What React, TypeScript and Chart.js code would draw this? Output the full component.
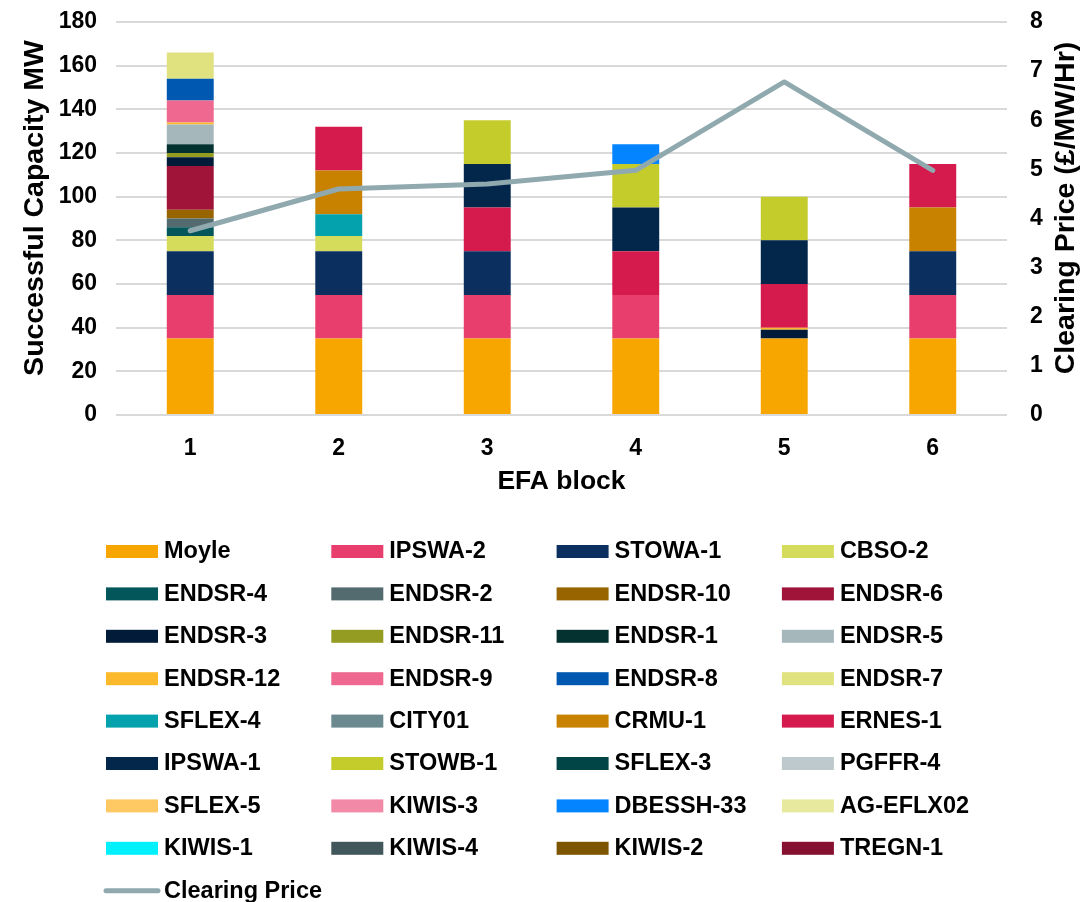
import React, { useEffect, useRef } from "react";
import { Chart, registerables } from "chart.js";

Chart.register(...registerables);

const FONT = '"Liberation Sans", Arial, sans-serif';

const categories = ["1", "2", "3", "4", "5", "6"];

// Successful capacity (MW) per unit, per EFA block
const moyle = [35, 35, 35, 35, 35, 35];
const ipswa2 = [20, 20, 20, 20, 0, 20];
const stowa1 = [20, 20, 20, 0, 0, 20];
const cbso2 = [7, 7, 0, 0, 0, 0];
const endsr4 = [4, 0, 0, 0, 0, 0];
const endsr2 = [4, 0, 0, 0, 0, 0];
const endsr10 = [4, 0, 0, 0, 0, 0];
const endsr6 = [20, 0, 0, 0, 0, 0];
const endsr3 = [4, 0, 0, 0, 4, 0];
const endsr11 = [2, 0, 0, 0, 0, 0];
const endsr1 = [4, 0, 0, 0, 0, 0];
const endsr5 = [9, 0, 0, 0, 0, 0];
const endsr12 = [1, 0, 0, 0, 1, 0];
const endsr9 = [10, 0, 0, 0, 0, 0];
const endsr8 = [10, 0, 0, 0, 0, 0];
const endsr7 = [12, 0, 0, 0, 0, 0];
const sflex4 = [0, 10, 0, 0, 0, 0];
const city01 = [0, 0, 0, 0, 0, 0];
const crmu1 = [0, 20, 0, 0, 0, 20];
const ernes1 = [0, 20, 20, 20, 20, 20];
const ipswa1 = [0, 0, 20, 20, 20, 0];
const stowb1 = [0, 0, 20, 20, 20, 0];
const sflex3 = [0, 0, 0, 0, 0, 0];
const pgffr4 = [0, 0, 0, 0, 0, 0];
const sflex5 = [0, 0, 0, 0, 0, 0];
const kiwis3 = [0, 0, 0, 0, 0, 0];
const dbessh33 = [0, 0, 0, 9, 0, 0];
const agEflx02 = [0, 0, 0, 0, 0, 0];
const kiwis1 = [0, 0, 0, 0, 0, 0];
const kiwis4 = [0, 0, 0, 0, 0, 0];
const kiwis2 = [0, 0, 0, 0, 0, 0];
const tregn1 = [0, 0, 0, 0, 0, 0];

// Clearing price (£/MW/Hr)
const clearingPrice = [3.75, 4.6, 4.7, 4.98, 6.78, 4.98];

const yTicks = { min: 0, max: 180, step: 20 };
const y1Ticks = { min: 0, max: 8, step: 1 };

const leftTitle = "Successful Capacity MW";
const rightTitle = "Clearing Price (£/MW/Hr)";
const xTitle = "EFA block";

const seriesLabels = [
  "Moyle", "IPSWA-2", "STOWA-1", "CBSO-2",
  "ENDSR-4", "ENDSR-2", "ENDSR-10", "ENDSR-6",
  "ENDSR-3", "ENDSR-11", "ENDSR-1", "ENDSR-5",
  "ENDSR-12", "ENDSR-9", "ENDSR-8", "ENDSR-7",
  "SFLEX-4", "CITY01", "CRMU-1", "ERNES-1",
  "IPSWA-1", "STOWB-1", "SFLEX-3", "PGFFR-4",
  "SFLEX-5", "KIWIS-3", "DBESSH-33", "AG-EFLX02",
  "KIWIS-1", "KIWIS-4", "KIWIS-2", "TREGN-1",
];
const seriesValues = [
  moyle, ipswa2, stowa1, cbso2,
  endsr4, endsr2, endsr10, endsr6,
  endsr3, endsr11, endsr1, endsr5,
  endsr12, endsr9, endsr8, endsr7,
  sflex4, city01, crmu1, ernes1,
  ipswa1, stowb1, sflex3, pgffr4,
  sflex5, kiwis3, dbessh33, agEflx02,
  kiwis1, kiwis4, kiwis2, tregn1,
];
const seriesColors = [
  "#f7a600", "#e83e6d", "#0b2f5f", "#d5dc5c",
  "#03575a", "#536a6f", "#976400", "#a0143a",
  "#021b38", "#949c22", "#033231", "#a6b7bc",
  "#fdb92c", "#ee6890", "#0058b0", "#dfe27e",
  "#03a2ac", "#6a8a90", "#c88200", "#d51a4e",
  "#03264b", "#c4cc2c", "#014546", "#bdc9cd",
  "#fec962", "#f28aa7", "#0485ff", "#e7ea9e",
  "#00f0fc", "#42575c", "#7d5400", "#85102f",
];
const priceColor = "#8fa9af";

const legendPlugin = {
  id: "gridLegend",
  afterDraw(chart: any) {
    const ctx = chart.ctx as CanvasRenderingContext2D;
    const x0 = 106, dx = 225.3, y0 = 551.5, dy = 42.4;
    ctx.save();
    ctx.font = `bold 23.5px ${FONT}`;
    ctx.textBaseline = "middle";
    ctx.textAlign = "left";
    const ds = chart.data.datasets;
    const bars = ds.filter((d: any) => d.type !== "line");
    const lines = ds.filter((d: any) => d.type === "line");
    const items = [...bars, ...lines];
    items.forEach((d: any, i: number) => {
      const col = i % 4;
      const row = Math.floor(i / 4);
      const x = x0 + col * dx;
      const y = y0 + row * dy;
      if (d.type === "line") {
        ctx.strokeStyle = d.borderColor;
        ctx.lineWidth = 5;
        ctx.lineCap = "round";
        ctx.beginPath();
        ctx.moveTo(x, y);
        ctx.lineTo(x + 52, y);
        ctx.stroke();
      } else {
        ctx.fillStyle = d.backgroundColor;
        ctx.fillRect(x, y - 6.5, 52, 13);
      }
      ctx.fillStyle = "#000";
      ctx.fillText(d.label, x + 58, y + 0.5);
    });
    // axis titles, both rotated bottom-to-top
    ctx.font = `bold 28.5px ${FONT}`;
    ctx.textAlign = "center";
    const cy = 208;
    ctx.save();
    ctx.translate(35, cy);
    ctx.rotate(-Math.PI / 2);
    ctx.fillText(leftTitle, 0, 0);
    ctx.restore();
    ctx.save();
    ctx.translate(1066, cy);
    ctx.rotate(-Math.PI / 2);
    ctx.fillText(rightTitle, 0, 0);
    ctx.restore();
    ctx.restore();
  },
};

const noPad = (s: any) => {
  s.paddingTop = 0;
  s.paddingBottom = 0;
};

export default function App() {
  const ref = useRef<HTMLCanvasElement | null>(null);

  useEffect(() => {
    if (!ref.current) return;
    const datasets: any[] = seriesLabels.map((label, i) => ({
      type: "bar",
      label,
      data: seriesValues[i],
      backgroundColor: seriesColors[i],
      borderWidth: 0,
      yAxisID: "y",
      order: 1,
      categoryPercentage: 1,
      barPercentage: 0.316,
    }));
    datasets.push({
      type: "line",
      label: "Clearing Price",
      data: clearingPrice,
      borderColor: priceColor,
      backgroundColor: priceColor,
      borderWidth: 5,
      borderCapStyle: "round",
      borderJoinStyle: "round",
      pointRadius: 0,
      tension: 0,
      yAxisID: "y1",
      order: 0,
    });

    const tickFont = { family: FONT, size: 23, weight: "bold" as const };
    const titleFont = { family: FONT, size: 26.5, weight: "bold" as const };

    const chart = new Chart(ref.current, {
      type: "bar",
      data: { labels: categories, datasets },
      options: {
        animation: false,
        responsive: true,
        maintainAspectRatio: false,
        devicePixelRatio: 1,
        layout: { padding: { left: 0, right: 0, top: 22, bottom: 397 } },
        plugins: {
          legend: { display: false },
          tooltip: { enabled: false },
        },
        scales: {
          x: {
            stacked: true,
            grid: { display: false },
            border: { display: false },
            ticks: { color: "#000", font: tickFont, padding: 12 },
            title: {
              display: true,
              text: xTitle,
              color: "#000",
              font: titleFont,
              padding: { top: 0, bottom: 7 },
            },
            afterFit: (s: any) => {
              s.height = 90;
              s.paddingLeft = 0;
              s.paddingRight = 0;
            },
          },
          y: {
            stacked: true,
            position: "left",
            min: yTicks.min,
            max: yTicks.max,
            ticks: { stepSize: yTicks.step, color: "#000", font: tickFont, padding: 19 },
            grid: { color: "#d9d9d9", lineWidth: 2, drawTicks: false },
            border: { display: false },
            afterFit: (s: any) => {
              s.width = 116;
              noPad(s);
            },
          },
          y1: {
            stacked: false,
            position: "right",
            min: y1Ticks.min,
            max: y1Ticks.max,
            ticks: { stepSize: y1Ticks.step, color: "#000", font: tickFont, padding: 23 },
            grid: { display: false, drawTicks: false },
            border: { display: false },
            afterFit: (s: any) => {
              s.width = 74;
              noPad(s);
            },
          },
        },
      },
      plugins: [legendPlugin],
    });
    return () => chart.destroy();
  }, []);

  return (
    <div style={{ position: "absolute", left: 0, top: 0, width: 1081, height: 902, background: "#fff" }}>
      <canvas ref={ref} />
    </div>
  );
}
